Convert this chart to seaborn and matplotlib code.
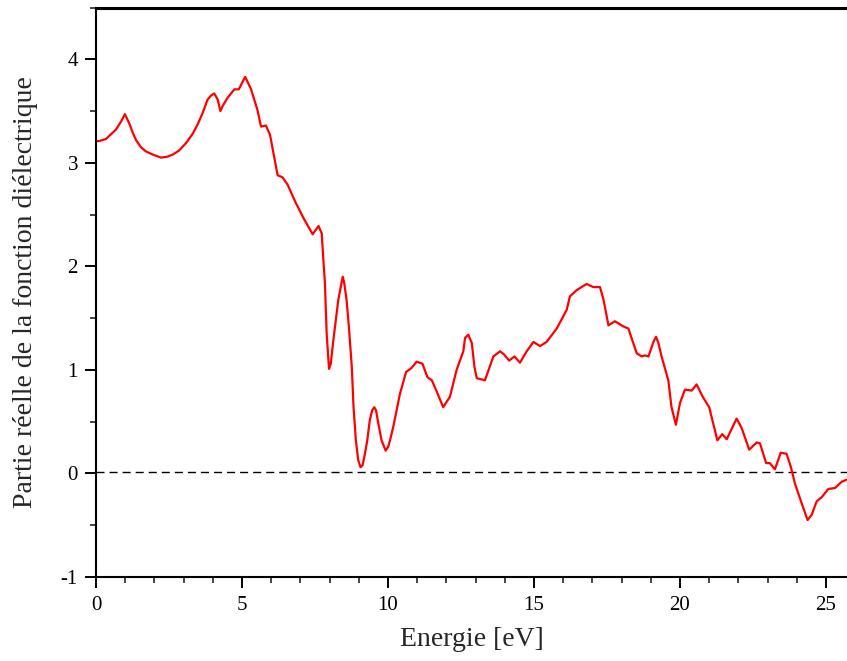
import matplotlib
matplotlib.use("Agg")
import matplotlib.pyplot as plt
from matplotlib.ticker import MultipleLocator
import seaborn as sns
import pandas as pd

energy = [0.00, 0.11, 0.34, 0.68, 0.86, 0.99, 1.14, 1.26, 1.37, 1.54, 1.71, 1.94,
          2.23, 2.45, 2.63, 2.85, 3.08, 3.31, 3.48, 3.65, 3.82, 3.94, 4.05, 4.17,
          4.26, 4.34, 4.51, 4.74, 4.89, 5.11, 5.31, 5.53, 5.65, 5.82, 5.96, 6.22,
          6.39, 6.56, 6.83, 7.10, 7.42, 7.62, 7.73, 7.78, 7.84, 7.90, 7.98, 8.04,
          8.13, 8.30, 8.38, 8.45, 8.50, 8.58, 8.66, 8.76, 8.82, 8.90, 8.98, 9.06,
          9.13, 9.21, 9.29, 9.38, 9.46, 9.53, 9.59, 9.67, 9.78, 9.92, 10.01, 10.07,
          10.18, 10.41, 10.62,
          10.81, 10.98, 11.18, 11.35, 11.50, 11.67, 11.89, 12.12, 12.35, 12.58, 12.64,
          12.75, 12.87, 12.96,
          13.04, 13.32, 13.61, 13.84, 13.97, 14.15, 14.33, 14.52, 14.75, 14.98, 15.21,
          15.43, 15.78, 16.12, 16.23, 16.46, 16.80, 17.03, 17.26, 17.38, 17.55, 17.77,
          18.06, 18.23, 18.52, 18.69, 18.80, 18.92, 19.09, 19.18, 19.26, 19.37, 19.60,
          19.71, 19.86,
          20.00, 20.17, 20.40, 20.57, 20.78, 21.00, 21.28, 21.45, 21.60, 21.94, 22.11,
          22.37, 22.63, 22.74, 22.95, 23.08, 23.25, 23.45, 23.65, 23.80, 23.94, 24.17,
          24.37, 24.51, 24.68, 24.85, 25.08, 25.31, 25.54, 25.71]
eps_real = [3.21, 3.21, 3.23, 3.32, 3.40, 3.47, 3.38, 3.29, 3.22, 3.15, 3.11, 3.08,
            3.05, 3.06, 3.08, 3.12, 3.19, 3.28, 3.37, 3.48, 3.61, 3.65, 3.67, 3.61,
            3.50, 3.55, 3.63, 3.71, 3.71, 3.83, 3.71, 3.51, 3.35, 3.36, 3.27, 2.88,
            2.86, 2.79, 2.62, 2.47, 2.31, 2.39, 2.32, 2.09, 1.84, 1.35, 1.01, 1.06,
            1.29, 1.68, 1.80, 1.90, 1.84, 1.68, 1.42, 1.03, 0.64, 0.32, 0.13, 0.06,
            0.08, 0.19, 0.32, 0.52, 0.61, 0.64, 0.61, 0.48, 0.32, 0.22, 0.26, 0.32,
            0.45, 0.77, 0.98,
            1.02, 1.08, 1.06, 0.93, 0.90, 0.79, 0.64, 0.74, 1.00, 1.18, 1.31,
            1.34, 1.26, 1.03,
            0.92, 0.90, 1.13, 1.18, 1.15, 1.09, 1.13, 1.07, 1.18, 1.27, 1.23,
            1.27, 1.40, 1.58, 1.71, 1.77, 1.83, 1.80, 1.80, 1.68, 1.43, 1.47,
            1.42, 1.40, 1.16, 1.13, 1.14, 1.13, 1.27, 1.32, 1.26, 1.13, 0.90,
            0.64, 0.47,
            0.68, 0.81, 0.80, 0.86, 0.74, 0.64, 0.32, 0.38, 0.33, 0.53, 0.44,
            0.23, 0.30, 0.29, 0.10, 0.10, 0.04, 0.20, 0.19, 0.06, -0.10, -0.29,
            -0.45, -0.40, -0.27, -0.23, -0.15, -0.14, -0.08, -0.06]
zero_level = 0.015
x_ticks = [0, 5, 10, 15, 20, 25]
y_ticks = [-1, 0, 1, 2, 3, 4]
x_label = "Energie [eV]"
y_label = "Partie réelle de la fonction diélectrique"

sns.set_style("ticks")
plt.rcParams['font.family'] = ['Liberation Serif', 'DejaVu Serif']
plt.rcParams['axes.unicode_minus'] = False

df = pd.DataFrame({"E": energy, "eps": eps_real})

fig = plt.figure(figsize=(8.47, 6.61), dpi=100)
ax = fig.add_axes([96 / 847, 1 - 577 / 661, 1 - 96 / 847, (577 - 7.5) / 661])

sns.lineplot(data=df, x="E", y="eps", color="#ff0000", linewidth=1.6, ax=ax,
             estimator=None, sort=False, solid_joinstyle="round", solid_capstyle="round")
ax.axhline(zero_level, color="black", linewidth=1.0, linestyle=(0, (5.8, 3.6)), zorder=1)

ax.set_xlim(0, 25.72)
ax.set_ylim(-1, 4.5)
ax.set_xticks(x_ticks)
ax.set_yticks(y_ticks)
ax.xaxis.set_minor_locator(MultipleLocator(1))
ax.yaxis.set_minor_locator(MultipleLocator(0.5))

ax.set_xlabel(x_label, fontsize=20, labelpad=8)
ax.set_ylabel(y_label, fontsize=20, labelpad=16)

for s in ["left", "bottom"]:
    ax.spines[s].set_linewidth(1.5)
    ax.spines[s].set_color("black")
ax.spines["top"].set_linewidth(2.2)
ax.spines["top"].set_color("black")
ax.spines["right"].set_visible(False)

ax.tick_params(axis="both", which="major", direction="out", length=8, width=1.4,
               labelsize=15, colors="black")
ax.tick_params(axis="both", which="minor", direction="out", length=4, width=1.2)
ax.tick_params(axis="x", which="major", pad=6)
ax.tick_params(axis="y", which="major", pad=5)
ax.tick_params(axis="x", which="both", top=False)

fig.savefig("out.png", dpi=100)
